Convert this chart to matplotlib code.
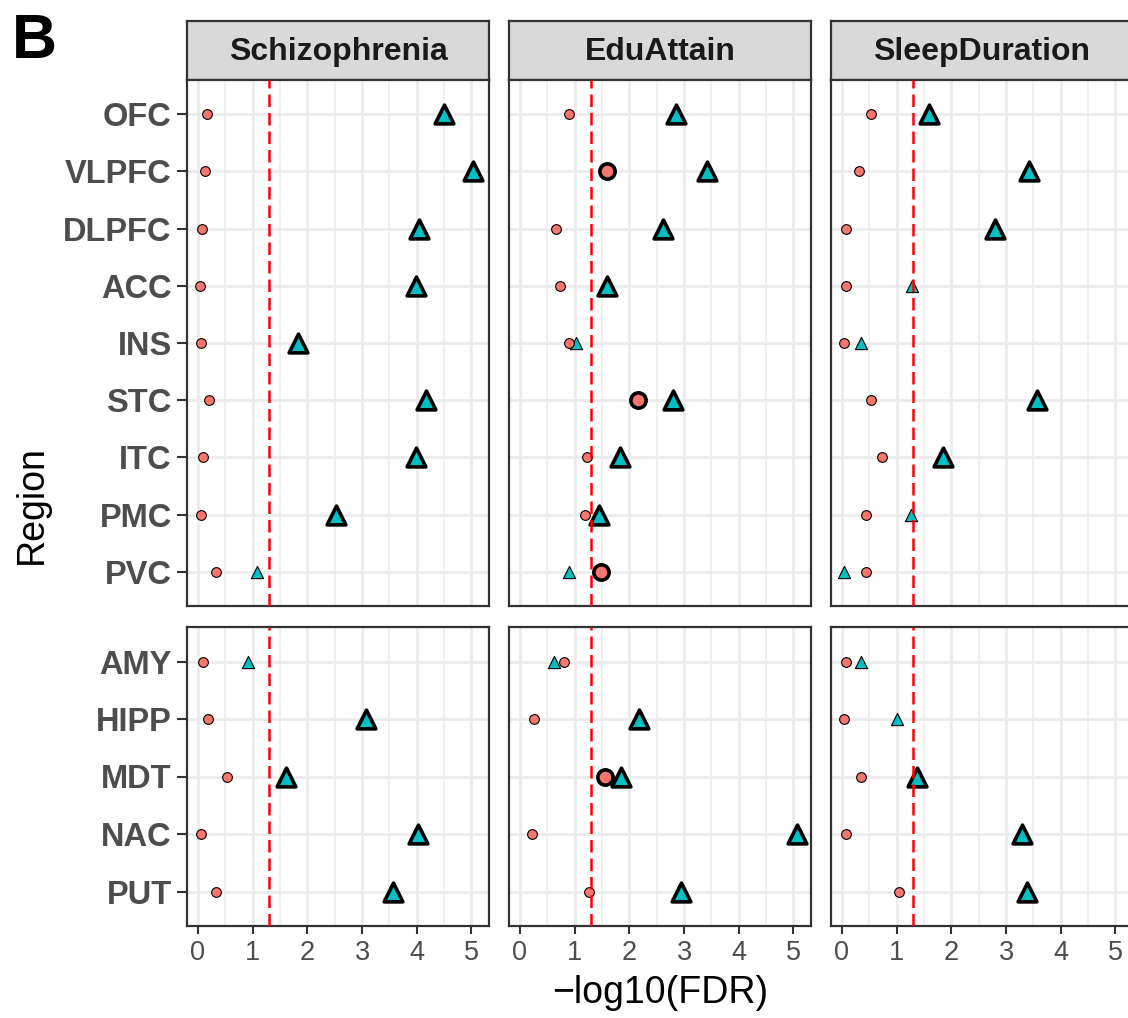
import matplotlib
matplotlib.use('Agg')
import matplotlib.pyplot as plt
import numpy as np
from matplotlib.ticker import MultipleLocator

plt.rcParams['font.family'] = ['Liberation Sans', 'DejaVu Sans']

# regions per panel row
regions_top = ['OFC', 'VLPFC', 'DLPFC', 'ACC', 'INS', 'STC', 'ITC', 'PMC', 'PVC']
regions_bottom = ['AMY', 'HIPP', 'MDT', 'NAC', 'PUT']
traits = ['Schizophrenia', 'EduAttain', 'SleepDuration']

# -log10(FDR), circle series (salmon) and triangle series (teal)
scz_circle_top = [0.16, 0.13, 0.08, 0.04, 0.05, 0.21, 0.09, 0.06, 0.33]
scz_tri_top = [4.49, 5.02, 4.04, 3.99, 1.83, 4.17, 3.99, 2.52, 1.08]
scz_circle_bot = [0.10, 0.19, 0.54, 0.06, 0.33]
scz_tri_bot = [0.92, 3.07, 1.61, 4.03, 3.56]

edu_circle_top = [0.90, 1.60, 0.66, 0.74, 0.90, 2.16, 1.23, 1.18, 1.48]
edu_tri_top = [2.86, 3.42, 2.61, 1.60, 1.02, 2.79, 1.83, 1.44, 0.90]
edu_circle_bot = [0.80, 0.25, 1.55, 0.22, 1.27]
edu_tri_bot = [0.62, 2.17, 1.84, 5.07, 2.94]

sleep_circle_top = [0.54, 0.32, 0.08, 0.08, 0.04, 0.53, 0.73, 0.44, 0.44]
sleep_tri_top = [1.60, 3.42, 2.79, 1.28, 0.35, 3.56, 1.84, 1.27, 0.04]
sleep_circle_bot = [0.08, 0.04, 0.35, 0.08, 1.05]
sleep_tri_bot = [0.35, 1.00, 1.38, 3.29, 3.39]

circle_top = [scz_circle_top, edu_circle_top, sleep_circle_top]
tri_top = [scz_tri_top, edu_tri_top, sleep_tri_top]
circle_bot = [scz_circle_bot, edu_circle_bot, sleep_circle_bot]
tri_bot = [scz_tri_bot, edu_tri_bot, sleep_tri_bot]

cutoff = -np.log10(0.05)

W, H = 1128, 1018
fig = plt.figure(figsize=(W / 100, H / 100), dpi=100)


def px_axes(x0, y0, x1, y1):
    # pixel box (from top-left) -> figure axes
    return fig.add_axes([x0 / W, 1 - y1 / H, (x1 - x0) / W, (y1 - y0) / H])


def draw_points(ax, vals, marker, color, small, big):
    vals = np.asarray(vals)
    y = np.arange(len(vals))
    sig = vals > cutoff
    ax.scatter(vals[~sig], y[~sig], marker=marker, s=small ** 2, c=color,
               edgecolors='black', linewidths=0.8, zorder=3)
    ax.scatter(vals[sig], y[sig], marker=marker, s=big ** 2, c=color,
               edgecolors='black', linewidths=2.6, zorder=3)


def style_panel(ax, labels, left, bottom):
    n = len(labels)
    ax.set_xlim(-0.2, 5.32)
    ax.set_ylim(n - 1 + 0.6, -0.6)
    ax.set_yticks(range(n))
    ax.xaxis.set_major_locator(MultipleLocator(1))
    ax.xaxis.set_minor_locator(MultipleLocator(0.5))
    ax.grid(True, which='major', color='#EBEBEB', linewidth=2.0, zorder=0)
    ax.grid(True, which='minor', axis='x', color='#EBEBEB', linewidth=1.1, zorder=0)
    ax.set_axisbelow(True)
    for sp in ax.spines.values():
        sp.set_color('#333333')
        sp.set_linewidth(1.6)
    ax.tick_params(which='minor', length=0)
    ax.tick_params(axis='both', which='major', color='#333333', width=1.5)
    if left:
        ax.set_yticklabels(labels, fontsize=23.5, fontweight='bold', color='#4D4D4D')
        ax.tick_params(axis='y', length=7, pad=4)
    else:
        ax.set_yticklabels([])
        ax.tick_params(axis='y', length=0)
    if bottom:
        ax.tick_params(axis='x', length=6, pad=4, labelsize=19.5, labelcolor='#4D4D4D')
    else:
        ax.set_xticklabels([])
        ax.tick_params(axis='x', length=0)


lefts = [187, 509, 831]
pw = 302
for i, trait in enumerate(traits):
    x0 = lefts[i]
    # strip
    sax = px_axes(x0, 21, x0 + pw, 80)
    sax.set_facecolor('#D9D9D9')
    sax.set_xticks([])
    sax.set_yticks([])
    for sp in sax.spines.values():
        sp.set_color('#333333')
        sp.set_linewidth(1.6)
    sax.text(0.5, 0.47, trait, ha='center', va='center', fontsize=23,
             fontweight='bold', color='#1A1A1A', transform=sax.transAxes)

    ax_t = px_axes(x0, 80, x0 + pw, 606)
    draw_points(ax_t, tri_top[i], '^', '#00BFC4', 8.8, 13.5)
    draw_points(ax_t, circle_top[i], 'o', '#F8766D', 7.0, 11.0)
    ax_t.axvline(cutoff, color='red', linewidth=1.8, linestyle=(0, (5.0, 2.4)), zorder=4)
    style_panel(ax_t, regions_top, i == 0, False)

    ax_b = px_axes(x0, 627, x0 + pw, 926)
    draw_points(ax_b, tri_bot[i], '^', '#00BFC4', 8.8, 13.5)
    draw_points(ax_b, circle_bot[i], 'o', '#F8766D', 7.0, 11.0)
    ax_b.axvline(cutoff, color='red', linewidth=1.8, linestyle=(0, (5.0, 2.4)), zorder=4)
    style_panel(ax_b, regions_bottom, i == 0, True)

fig.text(32 / W, 1 - 505 / H, 'Region', rotation=90, ha='center', va='center',
         fontsize=27, color='black')
fig.text(660 / W, 1 - 993 / H, '\u2212log10(FDR)', ha='center', va='center',
         fontsize=27, color='black')
fig.text(12 / W, 1 - 41 / H, 'B', ha='left', va='center', fontsize=45,
         fontweight='bold', color='black')

fig.savefig('out.png', dpi=100)
